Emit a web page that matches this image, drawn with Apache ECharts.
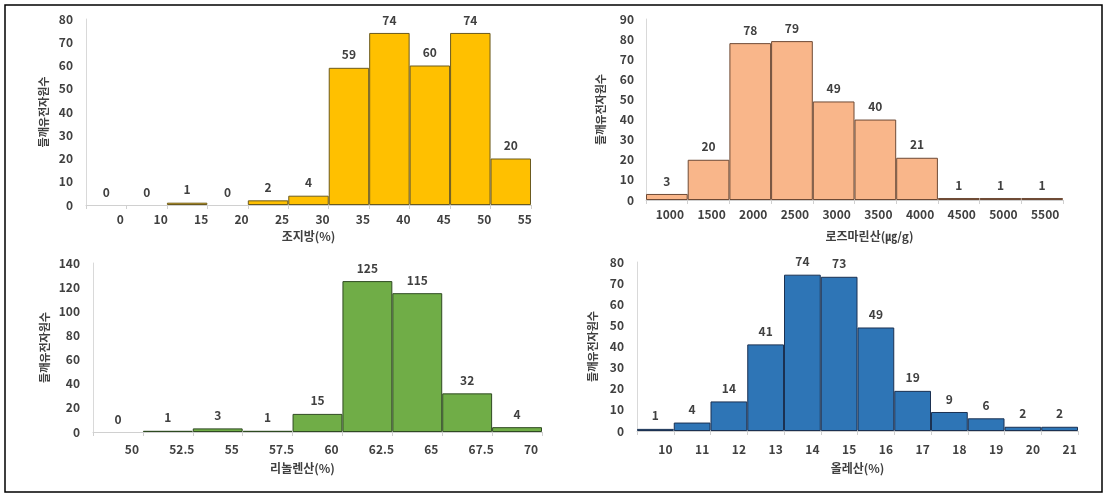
<!DOCTYPE html>
<html>
<head>
<meta charset="utf-8">
<script src="https://cdn.jsdelivr.net/npm/echarts@6/dist/echarts.min.js"></script>
<style>
html,body{margin:0;padding:0;background:#fff;}
#c{width:1105px;height:495px;}
</style>
</head>
<body>
<div id="c"></div>
<script>
// ---- data ----
const yTitle = '들깨유전자원수';

const fatBins = ['0','10','15','20','25','30','35','40','45','50','55'];
const fatCounts = [0,0,1,0,2,4,59,74,60,74,20];
const fatTitle = '조지방(%)';

const rosBins = ['1000','1500','2000','2500','3000','3500','4000','4500','5000','5500'];
const rosCounts = [3,20,78,79,49,40,21,1,1,1];
const rosTitle = '로즈마린산(㎍/g)';

const linBins = ['50','52.5','55','57.5','60','62.5','65','67.5','70'];
const linCounts = [0,1,3,1,15,125,115,32,4];
const linTitle = '리놀렌산(%)';

const oleBins = ['10','11','12','13','14','15','16','17','18','19','20','21'];
const oleCounts = [1,4,14,41,74,73,49,19,9,6,2,2];
const oleTitle = '올레산(%)';

// ---- chart ----
const FONT = '"Noto Sans CJK KR", "Noto Sans", sans-serif';
const TXT = '#404040';

const panels = [
  {bins: fatBins, counts: fatCounts, title: fatTitle, max: 80, interval: 10,
   grid: {left: 86, top: 19, width: 445, height: 186},
   color: '#FFC000', border: '#6b5a1e', lblPad: [0,0,0,28], lblMargin: 8,
   nameGap: 25, namePad: [0,0,0,0], yNameGap: 37, yLblMargin: 13},
  {bins: rosBins, counts: rosCounts, title: rosTitle, max: 90, interval: 10,
   grid: {left: 646, top: 19, width: 417, height: 181},
   color: '#F9B68A', border: '#6e4a35', lblPad: [0,0,0,6], lblMargin: 8,
   nameGap: 30, namePad: [0,0,0,30], yNameGap: 40, yLblMargin: 12},
  {bins: linBins, counts: linCounts, title: linTitle, max: 140, interval: 20,
   grid: {left: 93, top: 263, width: 449, height: 169},
   color: '#70AD47', border: '#2f4a22', lblPad: [0,0,0,28], lblMargin: 11,
   nameGap: 30, namePad: [0,30,0,0], yNameGap: 43, yLblMargin: 13},
  {bins: oleBins, counts: oleCounts, title: oleTitle, max: 80, interval: 10,
   grid: {left: 637, top: 262, width: 441, height: 169},
   color: '#2E75B6', border: '#1b3152', lblPad: [0,0,0,20], lblMargin: 12,
   nameGap: 31, namePad: [0,0,0,0], yNameGap: 39, yLblMargin: 13}
];

const option = {
  animation: false,
  backgroundColor: '#fff',
  textStyle: {fontFamily: FONT},
  grid: panels.map(p => Object.assign({containLabel: false}, p.grid)),
  xAxis: panels.map((p, i) => ({
    type: 'category', gridIndex: i, data: p.bins, boundaryGap: true,
    name: p.title, nameLocation: 'middle', nameGap: p.nameGap,
    nameTextStyle: {fontFamily: FONT, fontSize: 12, fontWeight: 'bold', color: TXT, padding: p.namePad},
    axisLine: {lineStyle: {color: '#d0d0d0', width: 1}},
    axisTick: {show: true, length: 4, lineStyle: {color: '#d0d0d0'}},
    axisLabel: {interval: 0, hideOverlap: false, margin: p.lblMargin, padding: p.lblPad,
      fontFamily: FONT, fontSize: 12, fontWeight: 'bold', color: TXT},
    splitLine: {show: false}
  })),
  yAxis: panels.map((p, i) => ({
    type: 'value', gridIndex: i, min: 0, max: p.max, interval: p.interval,
    name: yTitle, nameLocation: 'middle', nameGap: p.yNameGap, nameRotate: 90,
    nameTextStyle: {fontFamily: FONT, fontSize: 11, fontWeight: 'bold', color: TXT},
    axisLine: {show: true, lineStyle: {color: '#d9d9d9', width: 1}},
    axisTick: {show: false},
    axisLabel: {margin: p.yLblMargin, fontFamily: FONT, fontSize: 12, fontWeight: 'bold', color: TXT},
    splitLine: {show: false}
  })),
  series: panels.map((p, i) => ({
    type: 'bar', xAxisIndex: i, yAxisIndex: i,
    data: p.counts.map(v => v === 0 ? {value: v, itemStyle: {borderWidth: 0}} : v),
    barCategoryGap: '0%', barGap: '0%',
    itemStyle: {color: p.color, borderColor: p.border, borderWidth: 1},
    label: {show: true, position: 'top', distance: 7, fontFamily: FONT,
      fontSize: 12, fontWeight: 'bold', color: TXT},
    emphasis: {disabled: true}
  })),
  graphic: [{
    type: 'rect', shape: {x: 5, y: 5, width: 1097, height: 487},
    style: {fill: 'none', stroke: '#000', lineWidth: 1.5}, silent: true
  }]
};

const chart = echarts.init(document.getElementById('c'), null, {renderer: 'canvas'});
chart.setOption(option);
</script>
</body>
</html>
